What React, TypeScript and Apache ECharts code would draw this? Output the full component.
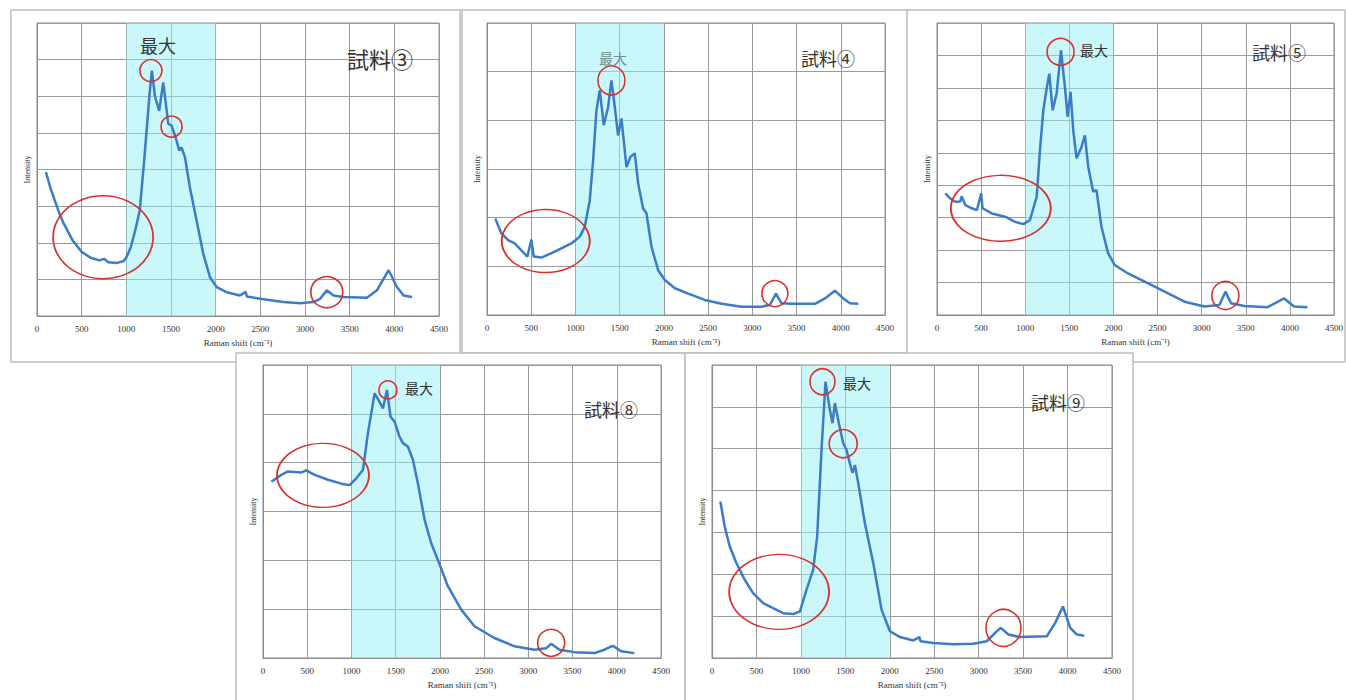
import React, { useEffect, useRef } from "react";
import * as echarts from "echarts";

// ---- data (Raman shift cm^-1, intensity in grid units) ----
const s3Shift = [100, 150, 200, 250, 300, 400, 500, 600, 700, 750, 800, 900, 970, 1000, 1050, 1100, 1150, 1200, 1230, 1260, 1286, 1320, 1368, 1413, 1469, 1506, 1551, 1592, 1618, 1656, 1712, 1787, 1861, 1936, 2011, 2123, 2272, 2335, 2350, 2497, 2758, 2945, 3095, 3169, 3244, 3319, 3431, 3693, 3805, 3936, 4029, 4104, 4197];
const s3Int = [3.93, 3.5, 3.15, 2.8, 2.52, 2.06, 1.75, 1.59, 1.52, 1.56, 1.47, 1.45, 1.5, 1.6, 1.88, 2.34, 2.88, 4.25, 5.15, 6.06, 6.7, 6.0, 5.6, 6.38, 5.25, 5.2, 4.88, 4.52, 4.6, 4.34, 3.5, 2.6, 1.7, 1.06, 0.79, 0.65, 0.56, 0.66, 0.53, 0.47, 0.38, 0.35, 0.38, 0.47, 0.7, 0.56, 0.52, 0.5, 0.7, 1.25, 0.79, 0.56, 0.52];

const s4Shift = [94, 162, 238, 313, 389, 456, 502, 528, 615, 728, 841, 954, 1049, 1105, 1162, 1200, 1237, 1275, 1320, 1369, 1407, 1445, 1482, 1520, 1577, 1622, 1671, 1709, 1765, 1803, 1860, 1935, 2011, 2124, 2275, 2463, 2652, 2878, 3104, 3199, 3267, 3331, 3444, 3708, 3821, 3934, 4028, 4104, 4198];
const s4Int = [1.98, 1.68, 1.54, 1.47, 1.33, 1.2, 1.55, 1.2, 1.18, 1.27, 1.37, 1.47, 1.61, 1.81, 2.36, 3.18, 4.2, 4.62, 3.9, 4.27, 4.82, 4.27, 3.69, 4.04, 3.04, 3.25, 3.32, 2.7, 2.19, 2.09, 1.4, 0.92, 0.72, 0.55, 0.44, 0.31, 0.23, 0.17, 0.17, 0.21, 0.44, 0.24, 0.23, 0.23, 0.34, 0.5, 0.34, 0.24, 0.23];

const s5Shift = [94, 151, 207, 264, 280, 320, 395, 452, 501, 516, 621, 772, 885, 979, 1054, 1130, 1167, 1205, 1243, 1273, 1311, 1356, 1405, 1450, 1480, 1514, 1544, 1582, 1638, 1676, 1714, 1770, 1808, 1864, 1940, 2015, 2165, 2354, 2580, 2806, 3032, 3201, 3269, 3333, 3484, 3747, 3935, 4048, 4199];
const s5Int = [3.75, 3.59, 3.49, 3.5, 3.66, 3.39, 3.29, 3.23, 3.75, 3.29, 3.13, 3.03, 2.87, 2.8, 2.93, 3.64, 5.08, 6.31, 6.98, 7.44, 6.31, 6.83, 8.16, 7.03, 6.11, 6.88, 5.7, 4.83, 5.18, 5.54, 4.57, 3.8, 3.85, 2.72, 1.9, 1.54, 1.28, 1.03, 0.72, 0.41, 0.26, 0.31, 0.72, 0.36, 0.28, 0.24, 0.51, 0.26, 0.24];

const s8Shift = [94, 151, 207, 282, 433, 490, 584, 734, 885, 979, 1055, 1130, 1186, 1224, 1262, 1307, 1356, 1401, 1442, 1488, 1544, 1582, 1638, 1695, 1751, 1827, 1902, 1977, 2090, 2241, 2391, 2617, 2843, 3069, 3201, 3258, 3352, 3521, 3747, 3860, 3954, 4048, 4199];
const s8Int = [3.61, 3.68, 3.75, 3.82, 3.8, 3.84, 3.75, 3.65, 3.57, 3.54, 3.68, 3.85, 4.6, 5.01, 5.42, 5.28, 5.11, 5.49, 4.94, 4.84, 4.53, 4.4, 4.33, 4.06, 3.58, 2.83, 2.35, 2.01, 1.47, 0.99, 0.65, 0.41, 0.24, 0.17, 0.2, 0.29, 0.17, 0.12, 0.1, 0.17, 0.25, 0.14, 0.1];

const s9Shift = [94, 143, 199, 274, 368, 462, 575, 687, 800, 913, 988, 1063, 1138, 1183, 1232, 1277, 1326, 1356, 1382, 1431, 1476, 1514, 1551, 1581, 1608, 1645, 1720, 1814, 1908, 2002, 2115, 2265, 2335, 2345, 2490, 2716, 2941, 3091, 3185, 3249, 3335, 3467, 3767, 3861, 3948, 4030, 4105, 4188];
const s9Int = [3.74, 3.14, 2.67, 2.27, 1.87, 1.55, 1.31, 1.19, 1.07, 1.05, 1.11, 1.63, 2.11, 2.9, 4.97, 6.6, 5.93, 5.61, 6.09, 5.57, 5.13, 4.97, 4.65, 4.42, 4.61, 4.18, 3.22, 2.27, 1.15, 0.64, 0.5, 0.42, 0.5, 0.4, 0.36, 0.33, 0.34, 0.4, 0.6, 0.72, 0.56, 0.5, 0.52, 0.84, 1.23, 0.72, 0.56, 0.53];

// highlighted features (red circles), [shift, intensity]
const s3Marks = [[740, 2.15], [1275, 6.7], [1506, 5.17], [3244, 0.65]];
const s4Marks = [[664, 1.52], [1407, 4.82], [3255, 0.44]];
const s5Marks = [[723, 3.29], [1401, 8.11], [3269, 0.6]];
const s8Marks = [[678, 3.74], [1412, 5.49], [3258, 0.31]];
const s9Marks = [[755, 1.58], [1243, 6.6], [1476, 5.12], [3279, 0.72]];

const sampleNames = ["試料③", "試料④", "試料⑤", "試料⑧", "試料⑨"];
const yMaxes = [8, 6, 9, 6, 7];
const maxLabel = "最大";
const xName = "Raman shift (cm⁻¹)";
const yName = "Intensity";

// ---- layout ----
const panels = [
  { shift: s3Shift, int: s3Int, marks: s3Marks, sizes: [[100, 83], [22, 22], [21, 21], [32, 31]],
    grid: { left: 37, top: 23, width: 402, height: 293 }, frame: [11, 10, 449, 352],
    maxPos: [158, 45], maxSize: 18, maxColor: "#333", namePos: [380, 58], nameSize: 22 },
  { shift: s4Shift, int: s4Int, marks: s4Marks, sizes: [[88, 63], [27, 29], [26, 26]],
    grid: { left: 487, top: 23, width: 398, height: 292 }, frame: [462, 10, 448, 343],
    maxPos: [613, 58], maxSize: 14, maxColor: "#6f8f8f", namePos: [828, 58], nameSize: 18 },
  { shift: s5Shift, int: s5Int, marks: s5Marks, sizes: [[100, 66], [27, 27], [27, 28]],
    grid: { left: 937, top: 23, width: 398, height: 292 }, frame: [907, 10, 438, 352],
    maxPos: [1094, 50], maxSize: 14, maxColor: "#333", namePos: [1279, 52], nameSize: 18 },
  { shift: s8Shift, int: s8Int, marks: s8Marks, sizes: [[92, 64], [18, 18], [27, 27]],
    grid: { left: 263, top: 365, width: 398, height: 293 }, frame: [236, 353, 449, 350],
    maxPos: [419, 388], maxSize: 14, maxColor: "#333", namePos: [611, 409], nameSize: 18 },
  { shift: s9Shift, int: s9Int, marks: s9Marks, sizes: [[100, 75], [25, 26], [28, 28], [35, 37]],
    grid: { left: 712, top: 365, width: 400, height: 293 }, frame: [685, 353, 448, 350],
    maxPos: [857, 383], maxSize: 14, maxColor: "#333", namePos: [1058, 402], nameSize: 18 },
];

const serif = "Liberation Serif";
const cjk = "Noto Sans CJK JP";

function buildOption() {
  const grid: any[] = [];
  const xAxis: any[] = [];
  const yAxis: any[] = [];
  const series: any[] = [];
  const graphic: any[] = [];

  panels.forEach((p) => {
    graphic.push({
      type: "rect",
      z: -10,
      shape: { x: p.frame[0], y: p.frame[1], width: p.frame[2], height: p.frame[3] },
      style: { fill: "#fff", stroke: "#bdbdbd", lineWidth: 1.5 },
    });
  });
  panels.forEach((p, i) => {
    graphic.push({
      type: "text", z: 100,
      x: p.maxPos[0], y: p.maxPos[1],
      style: { text: maxLabel, fontSize: p.maxSize, fontFamily: cjk, fill: p.maxColor, align: "center", verticalAlign: "middle" },
    });
    graphic.push({
      type: "text", z: 100,
      x: p.namePos[0], y: p.namePos[1],
      style: { text: sampleNames[i], fontSize: p.nameSize, fontFamily: cjk, fill: "#333", align: "center", verticalAlign: "middle" },
    });

    grid.push({ ...p.grid, show: true, borderColor: "#8a8a8a", borderWidth: 1, backgroundColor: "transparent" });
    xAxis.push({
      type: "value", gridIndex: i, min: 0, max: 4500, interval: 500,
      axisLine: { show: true, lineStyle: { color: "#8a8a8a" } },
      axisTick: { show: false },
      axisLabel: { fontSize: 9, color: "#333", fontFamily: serif, margin: 8, formatter: (v: number) => String(v) },
      splitLine: { show: true, lineStyle: { color: "#9a9a9a", width: 1 } },
      name: xName, nameLocation: "middle", nameGap: 22,
      nameTextStyle: { fontSize: 9, color: "#333", fontFamily: serif },
    });
    yAxis.push({
      type: "value", gridIndex: i, min: 0, max: yMaxes[i], interval: 1,
      axisLine: { show: true, lineStyle: { color: "#8a8a8a" } },
      axisTick: { show: false },
      axisLabel: { show: false },
      splitLine: { show: true, lineStyle: { color: "#9a9a9a", width: 1 } },
      name: yName, nameLocation: "middle", nameGap: 6, nameRotate: 90,
      nameTextStyle: { fontSize: 8, color: "#333", fontFamily: serif },
    });
    series.push({
      type: "line", xAxisIndex: i, yAxisIndex: i,
      data: p.shift.map((x, j) => [x, p.int[j]]),
      showSymbol: false, silent: true,
      lineStyle: { color: "#3a7cc6", width: 2.5 },
      markArea: {
        silent: true,
        itemStyle: { color: "rgba(150,240,245,0.5)" },
        data: [[{ xAxis: 1000 }, { xAxis: 2000 }]],
      },
      markPoint: {
        silent: true,
        symbol: "circle",
        label: { show: false },
        data: p.marks.map((m, j) => ({
          coord: m,
          symbolSize: p.sizes[j],
          itemStyle: { color: "rgba(0,0,0,0)", borderColor: "#d8322c", borderWidth: 1.6 },
        })),
      },
    });
  });

  return { animation: false, backgroundColor: "#fff", grid, xAxis, yAxis, series, graphic };
}

export default function App() {
  const ref = useRef<HTMLDivElement>(null);
  useEffect(() => {
    if (!ref.current) return;
    const chart = echarts.init(ref.current, undefined, { renderer: "svg" });
    chart.setOption(buildOption() as any);
    return () => chart.dispose();
  }, []);
  return <div ref={ref} style={{ position: "absolute", left: 0, top: 0, width: 1346, height: 700 }} />;
}
